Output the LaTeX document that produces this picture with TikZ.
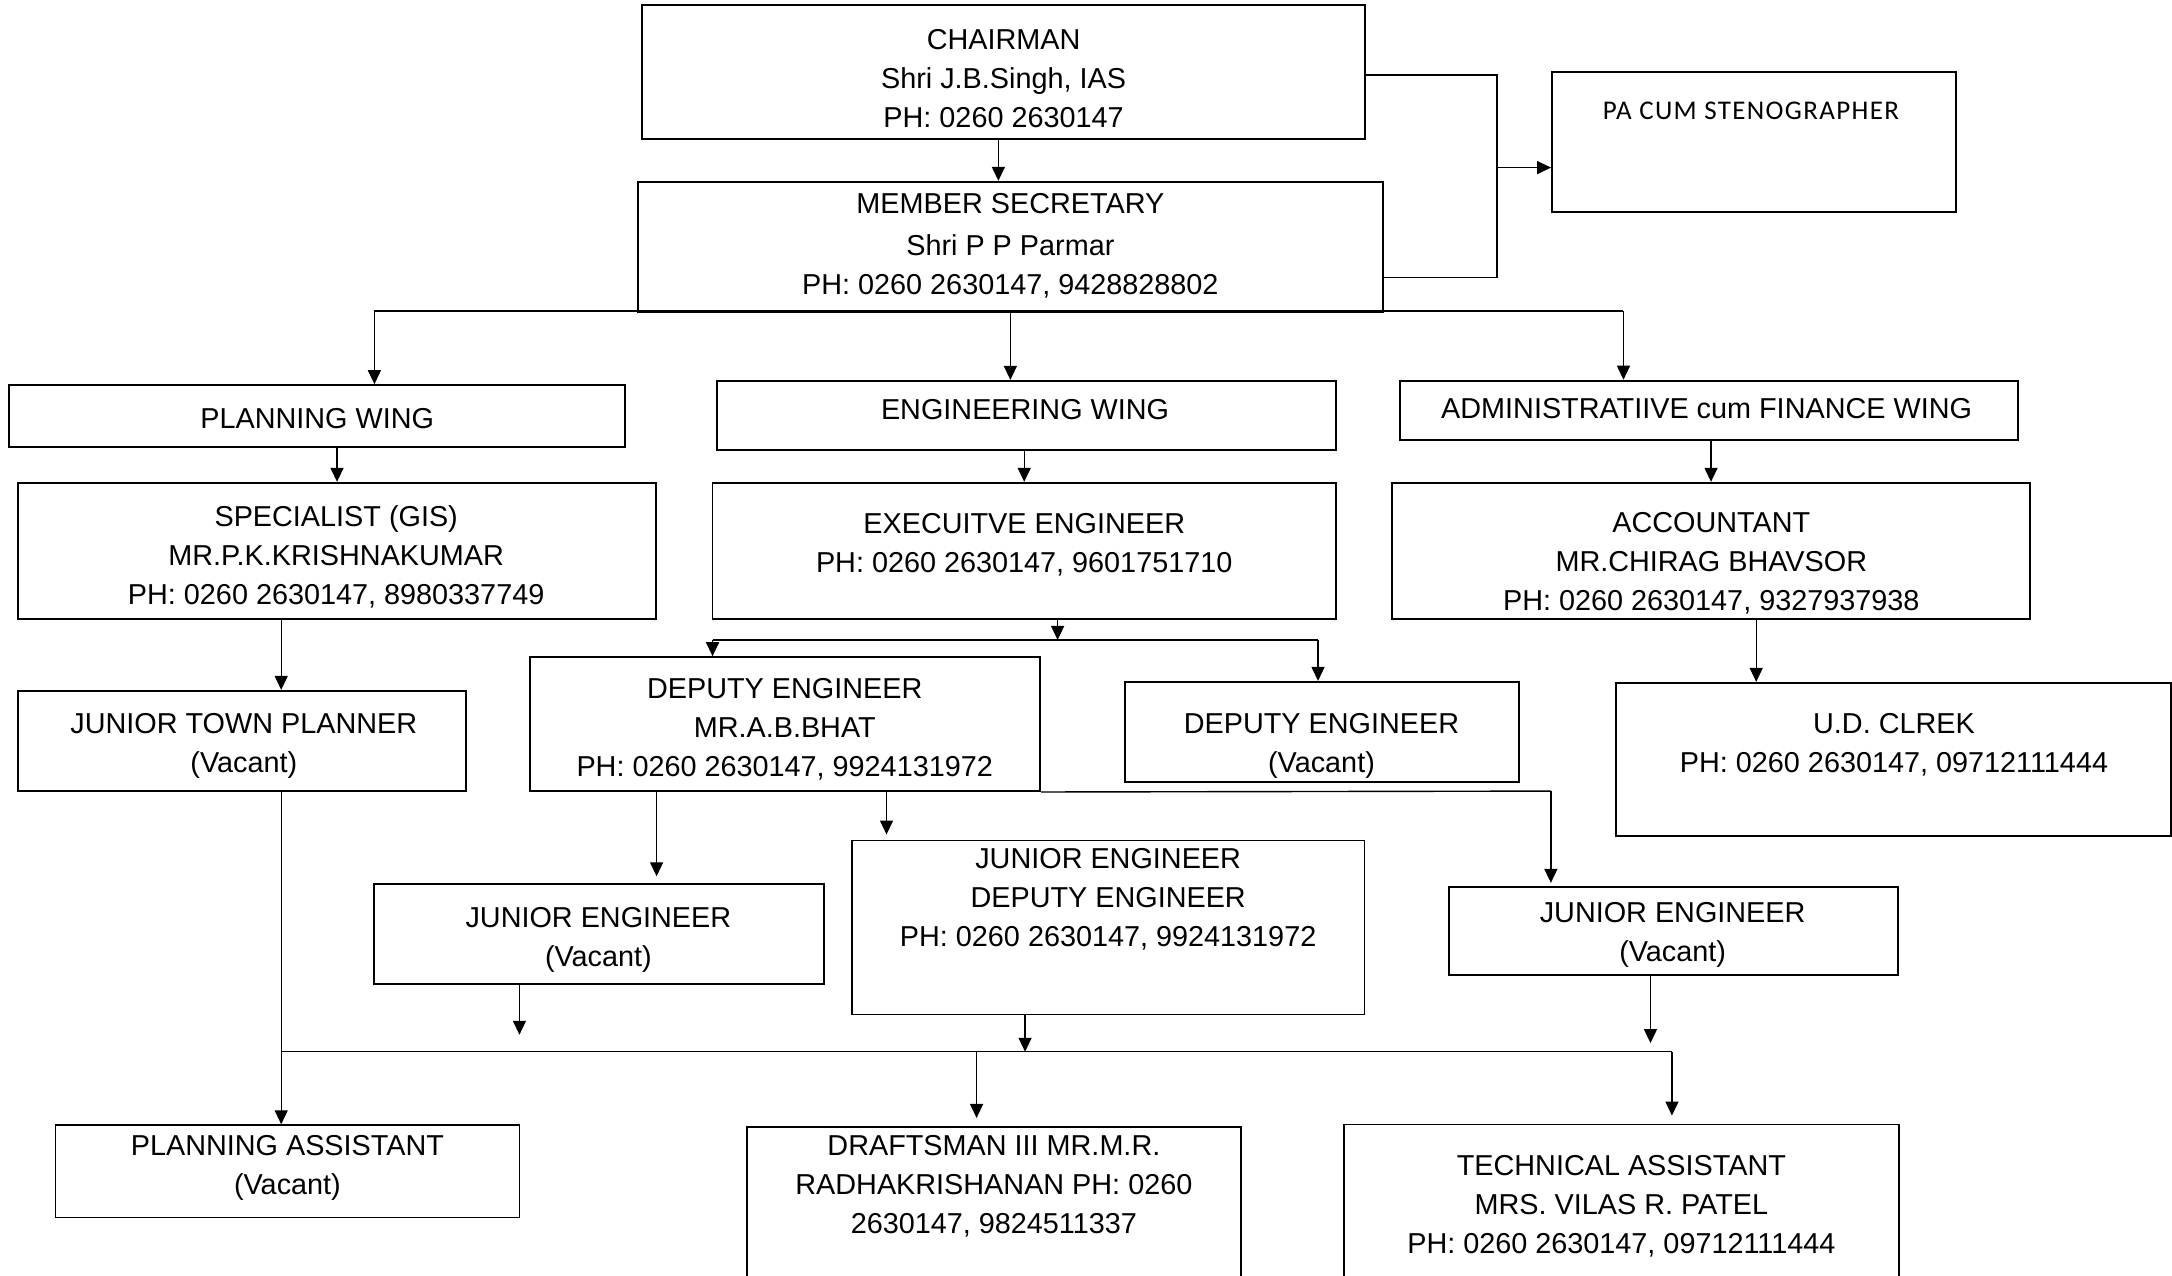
\documentclass[tikz,border=0pt]{standalone}
\usepackage{fontspec}
\setmainfont{Liberation Sans}
\newfontfamily\calfont[LetterSpace=5]{Carlito}
\usetikzlibrary{arrows.meta,fit}
\newcommand\boxfont{\fontsize{14.4}{19.5}\selectfont}

\tikzset{
  box/.style={draw, line width=0.9pt, inner sep=0pt, fit={#1}},
  txt/.style={align=center, anchor=north, inner sep=0pt, font=\boxfont},
  wire/.style={line width=0.7pt},
  arr/.style={wire, -{Triangle[length=7pt,width=6.5pt]}}
}

\begin{document}
\begin{tikzpicture}[x=0.6925pt, y=-0.6925pt]
\clip (0,0) rectangle (1568,921);

% boxes
\node[box={(463.5,3.6) (985.5,100.6)}] (chair) {};
\node[box={(1120.4,52.2) (1412.3,153.3)}] (pa) {};
\node[box={(460.3,131.2) (998.5,225)}] (msec) {};
\node[box={(6.5,278) (451,322.7)}] (plan) {};
\node[box={(517.7,274.9) (964.4,324.7)}] (engg) {};
\node[box={(1010.8,274.8) (1456.7,317.7)}] (admin) {};
\node[box={(12.9,348.5) (473.7,446.9)}] (spec) {};
\node[box={(514.4,348.5) (964.4,446.9)}] (exec) {};
\node[box={(1004.9,348.5) (1465.5,446.9)}] (acct) {};
\node[box={(12.9,498.7) (336.5,571.1)}] (jtp) {};
\node[box={(382.7,474.4) (751,571.1)}] (dep1) {};
\node[box={(812.3,492.2) (1096.7,564.6)}] (dep2) {};
\node[box={(1166.7,492.9) (1567,603.6)}] (ud) {};
\node[box={(270,638.3) (595,710.2)}] (jel) {};
\node[box={(615,606.7) (985,732.4)}] (jem) {};
\node[box={(1046,640.2) (1370,704)}] (jer) {};
\node[box={(40,812.3) (375,878.9)}] (passt) {};
\node[box={(539,813.5) (896,940)}] (draft) {};
\node[box={(970,811.8) (1371,940)}] (tech) {};

% texts
\node[txt] (chairt) at (724.5,21.2) {CHAIRMAN\\Shri J.B.Singh, IAS\\PH: 0260 2630147};
\node[txt, font=\calfont\fontsize{13.5}{16}\selectfont] (pat) at (1264,73.5) {PA CUM STENOGRAPHER};
\node[txt] (msect) at (729.4,139.6) {MEMBER SECRETARY\\[1.4pt]Shri P P Parmar\\PH: 0260 2630147, 9428828802};
\node[txt] (plant) at (229,294.8) {PLANNING WING};
\node[txt] (enggt) at (740,288) {ENGINEERING WING};
\node[txt] (admint) at (1232,287.6) {ADMINISTRATIIVE cum FINANCE WING};
\node[txt] (spect) at (242.7,364.6) {SPECIALIST (GIS)\\MR.P.K.KRISHNAKUMAR\\PH: 0260 2630147, 8980337749};
\node[txt] (exect) at (739.4,370.2) {EXECUITVE ENGINEER\\PH: 0260 2630147, 9601751710};
\node[txt] (acctt) at (1235.4,369.4) {ACCOUNTANT\\MR.CHIRAG BHAVSOR\\PH: 0260 2630147, 9327937938};
\node[txt] (jtpt) at (176,515) {JUNIOR TOWN PLANNER\\(Vacant)};
\node[txt] (dep1t) at (566.5,489.3) {DEPUTY ENGINEER\\MR.A.B.BHAT\\PH: 0260 2630147, 9924131972};
\node[txt] (dep2t) at (954,515) {DEPUTY ENGINEER\\(Vacant)};
\node[txt] (udt) at (1367.3,515) {U.D. CLREK\\PH: 0260 2630147, 09712111444};
\node[txt] (jelt) at (432,654.6) {JUNIOR ENGINEER\\(Vacant)};
\node[txt] (jemt) at (800,612.5) {JUNIOR ENGINEER\\DEPUTY ENGINEER\\PH: 0260 2630147, 9924131972};
\node[txt] (jert) at (1207.5,651.5) {JUNIOR ENGINEER\\(Vacant)};
\node[txt] (passtt) at (207.5,819.5) {PLANNING ASSISTANT\\(Vacant)};
\node[txt] (draftt) at (717.5,819.5) {DRAFTSMAN III MR.M.R.\\RADHAKRISHANAN PH: 0260\\2630147, 9824511337};
\node[txt] (techt) at (1170.5,833.9) {TECHNICAL ASSISTANT\\MRS. VILAS R. PATEL\\PH: 0260 2630147, 09712111444};

% junction points
\coordinate (msIn) at ([xshift=-2.6pt]chair.south);
\coordinate (pabus) at (1080.6,121);
\coordinate (wbus) at (270.3,224.6);
\coordinate (ebus) at (1172,224.6);
\coordinate (spine) at (203,0);
\coordinate (depbus) at (763.5,462);
\coordinate (depL) at (514.4,462);
\coordinate (depR) at (951.5,462);
\coordinate (udIn) at ([xshift=22.6pt]acct.south);
\coordinate (jebus) at (1119.6,571.1);
\coordinate (jelTop) at (474,571.1);
\coordinate (jemTop) at (640,571.1);
\coordinate (jelEnd) at (375,747);
\coordinate (jemEnd) at (740,759.3);
\coordinate (jerEnd) at (1191.5,753);
\coordinate (lbusL) at (203,759.3);
\coordinate (lbusR) at (1207,759.3);
\coordinate (dfJoin) at (705,759.3);

% top
\draw[arr] (msIn) -- (msIn |- msec.north);
\draw[wire] ([yshift=-1.4pt]chair.east) -| (pabus) |- ([yshift=-15.3pt]msec.east);
\draw[arr] (pabus) -- (pabus -| pa.west);

% wings
\draw[wire] (wbus) -- (ebus);
\draw[arr] (wbus) -- (wbus |- plan.north);
\draw[arr] (msec.south) -- (msec.south |- engg.north);
\draw[arr] (ebus) -- (ebus |- admin.north);
\draw[arr] (spec.north |- plan.south) -- (spec.north);
\draw[arr] (exec.north |- engg.south) -- (exec.north);
\draw[arr] (acct.north |- admin.south) -- (acct.north);

% planning side
\draw[arr] (spine |- spec.south) -- (spine |- jtp.north);
\draw[arr] (spine |- jtp.south) -- (spine |- passt.north);

% engineering side
\draw[arr] (depbus |- exec.south) -- (depbus);
\draw[wire] (depL) -- (depR);
\draw[arr] (depL) -- (depL |- dep1.north);
\draw[arr] (depR) -- (depR |- dep2.north);
\draw[wire] (dep1.south east) -- (jebus);
\draw[arr, shorten >=3.5pt] (jelTop) -- (jelTop |- jel.north);
\draw[arr, shorten >=2.5pt] (jemTop) -- (jemTop |- jem.north);
\draw[arr, shorten >=1.5pt] (jebus) -- (jebus |- jer.north);

% admin side
\draw[arr] (udIn) -- (udIn |- ud.north);

% lower bus
\draw[arr] (jelEnd |- jel.south) -- (jelEnd);
\draw[arr] (jemEnd |- jem.south) -- (jemEnd);
\draw[arr] (jerEnd |- jer.south) -- (jerEnd);
\draw[wire] (lbusL) -- (lbusR);
\draw[arr, shorten >=4pt] (dfJoin) -- (dfJoin |- draft.north);
\draw[arr, shorten >=4pt] (lbusR) -- (lbusR |- tech.north);
\end{tikzpicture}
\end{document}
